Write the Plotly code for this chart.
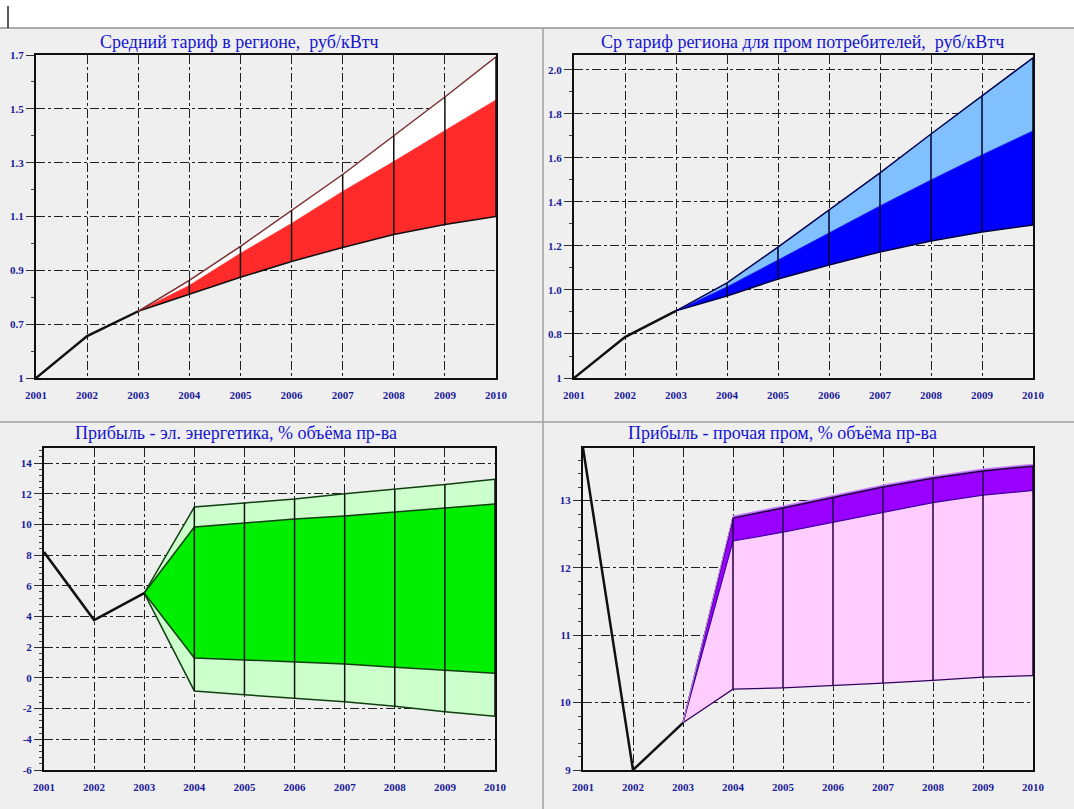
import plotly.graph_objects as go

W, H = 1074, 809

years = [2001, 2002, 2003, 2004, 2005, 2006, 2007, 2008, 2009, 2010]
hist_years = years[:3]
fc_years = years[2:]

# Средний тариф в регионе
tar_hist = [0.5, 0.656, 0.748]
tar_high = [0.748, 0.863, 0.989, 1.122, 1.256, 1.400, 1.544, 1.693]
tar_mid = [0.748, 0.844, 0.963, 1.074, 1.193, 1.304, 1.419, 1.533]
tar_low = [0.748, 0.811, 0.874, 0.933, 0.985, 1.033, 1.070, 1.100]

# Ср тариф региона для пром потребителей
ind_hist = [0.6, 0.786, 0.905]
ind_high = [0.905, 1.032, 1.195, 1.364, 1.532, 1.709, 1.882, 2.055]
ind_mid = [0.905, 1.014, 1.136, 1.259, 1.382, 1.500, 1.614, 1.723]
ind_low = [0.905, 0.973, 1.050, 1.114, 1.173, 1.223, 1.264, 1.295]

# Прибыль - эл. энергетика
en_hist = [8.2, 3.77, 5.53]
en_top = [5.53, 11.13, 11.4, 11.65, 12.0, 12.3, 12.6, 12.95]
en_up = [5.53, 9.83, 10.1, 10.35, 10.55, 10.8, 11.05, 11.33]
en_dn = [5.53, 1.3, 1.17, 1.03, 0.9, 0.7, 0.5, 0.3]
en_bot = [5.53, -0.85, -1.1, -1.33, -1.55, -1.85, -2.2, -2.5]

# Прибыль - прочая пром
oth_hist = [13.78, 9.0, 9.7]
oth_cap = [9.7, 12.77, 12.92, 13.07, 13.23, 13.36, 13.47, 13.54]
oth_high = [9.7, 12.74, 12.89, 13.04, 13.20, 13.33, 13.44, 13.51]
oth_mid = [9.7, 12.40, 12.53, 12.68, 12.83, 12.97, 13.08, 13.15]
oth_low = [9.7, 10.20, 10.22, 10.25, 10.29, 10.33, 10.38, 10.40]

titles = [
    "Средний тариф в регионе,  руб/кВтч",
    "Ср тариф региона для пром потребителей,  руб/кВтч",
    "Прибыль - эл. энергетика, % объёма пр-ва",
    "Прибыль - прочая пром, % объёма пр-ва",
]

# plot areas in pixels: left, right, top, bottom
boxes = [(36, 496, 55, 378), (574, 1033, 55, 378),
         (44, 495, 448, 770), (583, 1033, 448, 770)]
title_pos = [(240, 42), (802, 42), (236, 433), (782, 433)]

fig = go.Figure()


def ax(i):
    return ("x" if i == 0 else "x%d" % (i + 1)), ("y" if i == 0 else "y%d" % (i + 1))


def line(i, x, y, color, width=1.2, fill=None, fillcolor=None):
    xa, ya = ax(i)
    fig.add_trace(go.Scatter(x=x, y=y, mode="lines", xaxis=xa, yaxis=ya,
                             line=dict(color=color, width=width),
                             fill=fill, fillcolor=fillcolor,
                             showlegend=False, hoverinfo="skip"))


def verticals(i, low, high, color):
    vx, vy = [], []
    for k in range(1, len(fc_years)):
        vx += [fc_years[k], fc_years[k], None]
        vy += [low[k], high[k], None]
    xa, ya = ax(i)
    fig.add_trace(go.Scatter(x=vx, y=vy, mode="lines", xaxis=xa, yaxis=ya,
                             line=dict(color=color, width=1.5),
                             showlegend=False, hoverinfo="skip"))


# panel 1
line(0, fc_years, tar_low, "#101010", 1.5)
line(0, fc_years, tar_mid, "#ff2020", 0.8, "tonexty", "#ff2a2a")
line(0, fc_years, tar_high, "#7a3030", 1.5, "tonexty", "#ffffff")
verticals(0, tar_low, tar_high, "#101010")
line(0, hist_years, tar_hist, "#101010", 2.5)

# panel 2
line(1, fc_years, ind_low, "#000040", 1.5)
line(1, fc_years, ind_mid, "#0000ee", 0.8, "tonexty", "#0000ff")
line(1, fc_years, ind_high, "#000050", 1.5, "tonexty", "#80c0ff")
verticals(1, ind_low, ind_high, "#000030")
line(1, hist_years, ind_hist, "#101010", 2.5)

# panel 3
line(2, fc_years, en_bot, "#104010", 1.5)
line(2, fc_years, en_dn, "#104010", 1.5, "tonexty", "#ccffcc")
line(2, fc_years, en_up, "#104010", 1.5, "tonexty", "#00ee00")
line(2, fc_years, en_top, "#104010", 1.5, "tonexty", "#ccffcc")
verticals(2, en_bot, en_top, "#101010")
line(2, hist_years, en_hist, "#101010", 2.5)

# panel 4
line(3, fc_years, oth_low, "#300060", 1.2)
line(3, fc_years, oth_mid, "#4000a0", 1.2, "tonexty", "#ffccff")
line(3, fc_years, oth_high, "#200040", 1.5, "tonexty", "#9900ff")
line(3, fc_years, oth_cap, "#cc88ff", 1.0, "tonexty", "#b060ff")
verticals(3, oth_low, oth_high, "#200040")
line(3, hist_years, oth_hist, "#101010", 2.5)

y_ranges = [[0.5, 1.7], [0.6, 2.068], [-6, 14.98], [9, 13.78]]
y_vals = [
    [0.5, 0.7, 0.9, 1.1, 1.3, 1.5, 1.7],
    [0.6, 0.8, 1.0, 1.2, 1.4, 1.6, 1.8, 2.0],
    [-6, -4, -2, 0, 2, 4, 6, 8, 10, 12, 14],
    [9, 10, 11, 12, 13],
]
y_text = [
    ["1", "0.7", "0.9", "1.1", "1.3", "1.5", "1.7"],
    ["1", "0.8", "1.0", "1.2", "1.4", "1.6", "1.8", "2.0"],
    ["-6", "-4", "-2", "0", "2", "4", "6", "8", "10", "12", "14"],
    ["9", "10", "11", "12", "13"],
]
y_minor = [0.1, 0.1, 0.4, 0.2]

tick_font = dict(family="Liberation Serif", size=11, color="#1a1a9a", weight="bold")
layout = {}
for i, (l, r, t, b) in enumerate(boxes):
    sfx = "" if i == 0 else str(i + 1)
    layout["xaxis" + sfx] = dict(
        domain=[l / W, r / W], anchor="y" + sfx, range=[2001, 2010],
        automargin=False,
        tickvals=years, ticktext=[str(v) for v in years],
        ticks="outside", ticklen=6, tickcolor="rgba(0,0,0,0)",
        tickfont=tick_font, showgrid=True, gridcolor="#202020",
        griddash="dashdot", gridwidth=1, zeroline=False,
        showline=True, linecolor="#101010", linewidth=2, mirror=True)
    layout["yaxis" + sfx] = dict(
        domain=[1 - b / H, 1 - t / H], anchor="x" + sfx, range=y_ranges[i],
        automargin=False,
        tickvals=y_vals[i], ticktext=y_text[i],
        ticks="outside", ticklen=8, tickcolor="#303030", tickwidth=1,
        minor=dict(dtick=y_minor[i], tick0=y_ranges[i][0], ticks="outside",
                   ticklen=3, tickcolor="#404040", showgrid=False),
        tickfont=tick_font, showgrid=True, gridcolor="#202020",
        griddash="dashdot", gridwidth=1, zeroline=False,
        showline=True, linecolor="#101010", linewidth=2, mirror=True)

annotations = []
for i, (tx, ty) in enumerate(title_pos):
    annotations.append(dict(text=titles[i], x=tx / W, y=1 - ty / H,
                            xref="paper", yref="paper", showarrow=False,
                            xanchor="center", yanchor="middle",
                            font=dict(family="Liberation Serif", size=18, color="#1515d0")))

shapes = [
    dict(type="rect", xref="paper", yref="paper", x0=0, x1=1, y0=1 - 28 / H, y1=1,
         fillcolor="white", line=dict(width=0), layer="below"),
    dict(type="line", xref="paper", yref="paper", x0=0, x1=1, y0=1 - 28 / H, y1=1 - 28 / H,
         line=dict(color="#909090", width=1.5)),
    dict(type="line", xref="paper", yref="paper", x0=8 / W, x1=8 / W, y0=1 - 28 / H, y1=1 - 6 / H,
         line=dict(color="#202020", width=1.5)),
    dict(type="line", xref="paper", yref="paper", x0=543 / W, x1=543 / W, y0=0, y1=1 - 28 / H,
         line=dict(color="#a0a0a0", width=1.5)),
    dict(type="line", xref="paper", yref="paper", x0=0, x1=1, y0=1 - 422 / H, y1=1 - 422 / H,
         line=dict(color="#a0a0a0", width=1.5)),
]

fig.update_layout(
    width=W, height=H, margin=dict(l=0, r=0, t=0, b=0, pad=0),
    paper_bgcolor="#efefef", plot_bgcolor="#efefef",
    annotations=annotations, shapes=shapes, showlegend=False,
    **layout)

# page body has a default 8px margin; drop it so the figure sits at the corner
fig.write_html("out.html", config={"displayModeBar": False},
               post_script="document.body.style.margin='0';")
